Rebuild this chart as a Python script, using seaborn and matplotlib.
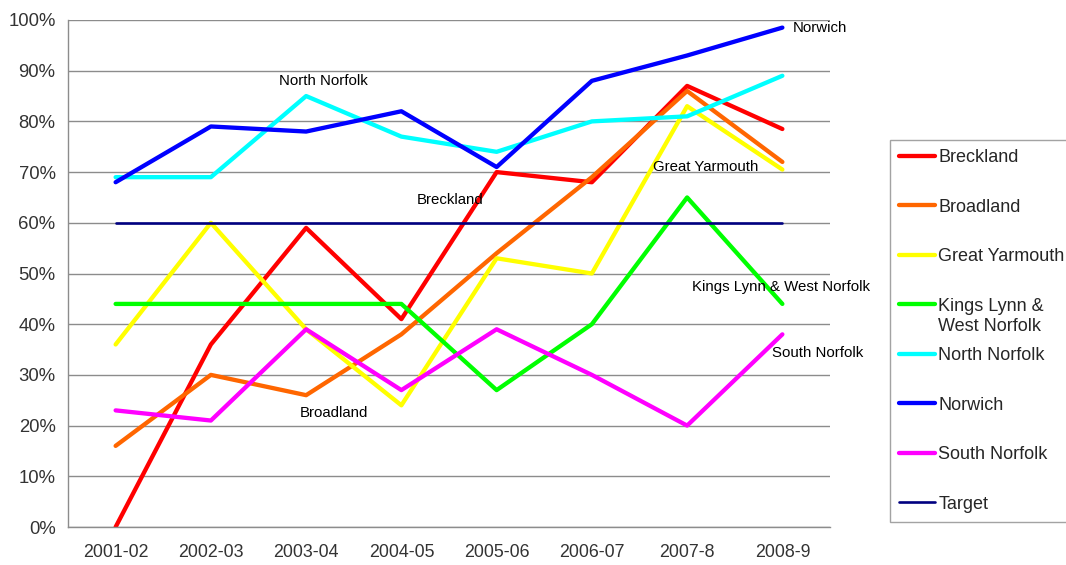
import pandas as pd
import matplotlib
matplotlib.use("Agg")
import matplotlib.pyplot as plt
import seaborn as sns
from matplotlib.ticker import PercentFormatter, FixedLocator

# =============================================================================
# DATA
# =============================================================================
years = ["2001-02", "2002-03", "2003-04", "2004-05", "2005-06", "2006-07", "2007-8", "2008-9"]

breckland = [0, 36, 59, 41, 70, 68, 87, 78.5]
broadland = [16, 30, 26, 38, 54, 69, 86, 72]
great_yarmouth = [36, 60, 39, 24, 53, 50, 83, 70.5]
kings_lynn = [44, 44, 44, 44, 27, 40, 65, 44]
north_norfolk = [69, 69, 85, 77, 74, 80, 81, 89]
norwich = [68, 79, 78, 82, 71, 88, 93, 98.5]
south_norfolk = [23, 21, 39, 27, 39, 30, 20, 38]
target = [60, 60, 60, 60, 60, 60, 60, 60]

district_names = ["Breckland", "Broadland", "Great Yarmouth", "Kings Lynn & West Norfolk",
                  "North Norfolk", "Norwich", "South Norfolk"]
district_values = [breckland, broadland, great_yarmouth, kings_lynn,
                   north_norfolk, norwich, south_norfolk]
district_colors = ["#FF0000", "#FF6600", "#FFFF00", "#00FF00", "#00FFFF", "#0000FF", "#FF00FF"]
target_color = "#000080"

# legend shows the long name over two lines, like the original chart
legend_labels = ["Breckland", "Broadland", "Great Yarmouth", "Kings Lynn &",
                 "North Norfolk", "Norwich", "South Norfolk", "Target"]
legend_wrap = "West Norfolk"

# in-chart labels: (text, x position in category units, y value)
annotations = [
    ("Norwich", 7.11, 98.5, "left"),
    ("North Norfolk", 2.18, 88.0, "center"),
    ("Breckland", 3.51, 64.5, "center"),
    ("Great Yarmouth", 6.19, 71.0, "center"),
    ("Kings Lynn & West Norfolk", 6.99, 47.3, "center"),
    ("South Norfolk", 7.37, 34.3, "center"),
    ("Broadland", 2.29, 22.5, "center"),
]

# =============================================================================
# PLOT
# =============================================================================
sns.set_style("white")
plt.rcParams["font.family"] = ["Liberation Sans", "DejaVu Sans"]

rows = []
for name, vals in zip(district_names, district_values):
    for yr, v in zip(years, vals):
        rows.append({"Year": yr, "Value": v, "District": name})
df = pd.DataFrame(rows)
target_df = pd.DataFrame({"Year": years, "Value": target})

fig = plt.figure(figsize=(10.66, 5.65), dpi=100)
ax = fig.add_axes([68 / 1066, 1 - 527 / 565, 762 / 1066, 507 / 565])

sns.lineplot(data=df, x="Year", y="Value", hue="District", hue_order=district_names,
             palette=district_colors, linewidth=3.1, sort=False, legend=False, ax=ax)
sns.lineplot(data=target_df, x="Year", y="Value", color=target_color,
             linewidth=1.9, sort=False, legend=False, ax=ax)

ax.set_xlim(-0.5, len(years) - 0.5)
ax.set_ylim(0, 100)
ax.set_yticks(range(0, 101, 10))
ax.yaxis.set_major_formatter(PercentFormatter(decimals=0))
ax.set_xlabel("")
ax.set_ylabel("")

ax.grid(axis="y", color="#8c8c8c", linewidth=1.0)
ax.set_axisbelow(True)
for side in ["top", "right"]:
    ax.spines[side].set_visible(False)
for side in ["left", "bottom"]:
    ax.spines[side].set_color("#8c8c8c")
    ax.spines[side].set_linewidth(1.0)

ax.xaxis.set_minor_locator(FixedLocator([i - 0.5 for i in range(len(years) + 1)]))
ax.tick_params(axis="x", which="major", length=0, pad=12, labelsize=12.8, labelcolor="#333333")
ax.tick_params(axis="x", which="minor", length=6, color="#8c8c8c", direction="out")
ax.tick_params(axis="y", which="major", length=6, color="#8c8c8c", direction="out",
               labelsize=13.3, labelcolor="#333333", pad=3)

for text, xpos, ypos, ha in annotations:
    ax.text(xpos, ypos, text, ha=ha, va="center", fontsize=10.8, color="black")

handles = list(ax.get_lines())
leg = fig.legend(handles=handles, labels=legend_labels, loc="upper left",
                 bbox_to_anchor=(890 / 1066, 1 - 140 / 565), frameon=True, fancybox=False,
                 fontsize=13, handlelength=2.0, handletextpad=0.17, labelspacing=1.80,
                 borderpad=0.5, borderaxespad=0)
leg.get_frame().set_edgecolor("#8c8c8c")
leg.get_frame().set_linewidth(1.0)

# second line of the Kings Lynn entry, placed under the first one
fig.canvas.draw()
kl_text = leg.get_texts()[3]
bb = kl_text.get_window_extent()
fig.text(bb.x0 / fig.bbox.width, (bb.y0 - 3) / fig.bbox.height, legend_wrap,
         ha="left", va="top", fontsize=13, color=kl_text.get_color(), zorder=10)

plt.savefig("out.png", dpi=100)
plt.close()
